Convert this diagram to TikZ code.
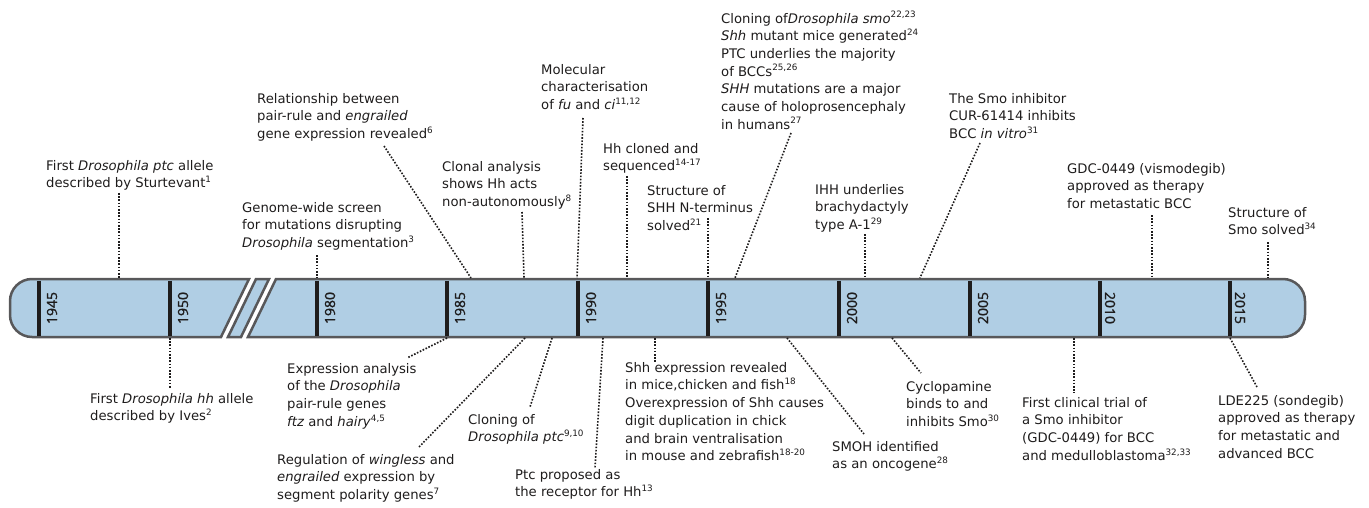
\documentclass[tikz,border=0pt]{standalone}
\usepackage{fontspec}
\setmainfont{DejaVu Sans}
\newfontfamily\yearfont[FakeBold=1.3]{Open Sans}
\usepackage{tikz}

\definecolor{barfill}{RGB}{176,206,228}
\definecolor{barline}{RGB}{88,88,90}
\definecolor{ink}{RGB}{30,28,28}
\newcommand{\notefont}{\fontsize{13.2}{17.7}\selectfont}
\newcommand{\refnum}[1]{\raisebox{0.4em}{\fontsize{8.8}{10}\selectfont #1}}

\begin{document}
\begin{tikzpicture}[x=1pt,y=-1pt]
\tikzstyle{note}=[font=\notefont,text=ink,align=left,anchor=north west,inner sep=0pt];
\tikzstyle{link}=[draw=ink,line width=1.6pt,dash pattern=on 1.6pt off 1.6pt];
\tikzstyle{barpart}=[fill=barfill,draw=barline,line width=2.5pt,line join=miter];
\tikzstyle{tick}=[draw=ink,line width=4.5pt];
\tikzstyle{year}=[font=\yearfont\fontsize{14}{15}\selectfont,text=ink,inner sep=0pt];
\useasboundingbox (0,0) rectangle (1369,508);
% draw the time bar
%   pieces
    \draw[barpart] (249,279) -- (32,279) .. controls (19.9,279) and (10,288.9) .. (10,301)
        -- (10,315) .. controls (10,327.1) and (19.9,337) .. (32,337) -- (221,337) -- cycle;
    \draw[barpart] (256,279) -- (269,279) -- (241,337) -- (228,337) -- cycle;
    \draw[barpart] (276,279) -- (1283,279) .. controls (1295.1,279) and (1305,288.9) .. (1305,301)
        -- (1305,315) .. controls (1305,327.1) and (1295.1,337) .. (1283,337) -- (248,337) -- cycle;
%   ticks and years
    \foreach \yr/\xx/\rot/\dx in {1945/39/90/13,1950/170/90/13,1980/317/90/13,1985/447/90/13,
        1990/578/90/13,1995/708/90/13,2000/839/90/13,2005/970/90/13,2010/1100/-90/10,2015/1230/-90/10}{
      \draw[tick] (\xx,280.5) -- (\xx,335.5);
      \node[year,rotate=\rot] (y\yr) at (\xx+\dx,308) {\yr};
    }
% events above the bar
%   nodes
    \node[note] (ptc) at (46,160) {First \textit{Drosophila ptc} allele\\described by Sturtevant\refnum{1}};
    \node[note] (relation) at (257,93) {Relationship between\\pair-rule and \textit{engrailed}\\gene expression revealed\refnum{6}};
    \node[note] (screen) at (242,202) {Genome-wide screen\\for mutations disrupting\\\textit{Drosophila} segmentation\refnum{3}};
    \node[note] (clonal) at (442,161) {Clonal analysis\\shows Hh acts\\non-autonomously\refnum{8}};
    \node[note] (fuci) at (541,64) {Molecular\\characterisation\\of \textit{fu} and \textit{ci}\refnum{11,12}};
    \node[note] (hhclone) at (603,143) {Hh cloned and\\sequenced\refnum{14-17}};
    \node[note] (shhnt) at (647,185) {Structure of\\SHH N-terminus\\solved\refnum{21}};
    \node[note] (smo) at (721,11) {Cloning of\textit{Drosophila smo}\refnum{22,23}\\\textit{Shh} mutant mice generated\refnum{24}\\PTC underlies the majority\\of BCCs\refnum{25,26}\\\textit{SHH} mutations are a major\\cause of holoprosencephaly\\in humans\refnum{27}};
    \node[note] (ihh) at (815,184) {IHH underlies\\brachydactyly\\type A-1\refnum{29}};
    \node[note] (cur) at (949,93) {The Smo inhibitor\\CUR-61414 inhibits\\BCC \textit{in vitro}\refnum{31}};
    \node[note] (gdc) at (1067,163) {GDC-0449 (vismodegib)\\approved as therapy\\for metastatic BCC};
    \node[note] (smostr) at (1228,207) {Structure of\\Smo solved\refnum{34}};
%   edges
    \coordinate (ptc1) at (119,193);   \coordinate (ptc2) at (119,278);
    \coordinate (rel1) at (384,146);   \coordinate (rel2) at (471,278);
    \coordinate (scr1) at (317,255);   \coordinate (scr2) at (317,278);
    \coordinate (clo1) at (522,212);   \coordinate (clo2) at (524,278);
    \coordinate (fuc1) at (583,118);   \coordinate (fuc2) at (577,278);
    \coordinate (hhc1) at (627,176);   \coordinate (hhc2) at (627,278);
    \coordinate (shh1) at (708,218);   \coordinate (shh2) at (708,278);
    \coordinate (smo1) at (791,133);   \coordinate (smo2) at (735,278);
    \coordinate (ihh1) at (865,234);   \coordinate (ihh2) at (865,278);
    \coordinate (cur1) at (980,143);   \coordinate (cur2) at (920,278);
    \coordinate (gdc1) at (1152,215);  \coordinate (gdc2) at (1152,278);
    \coordinate (sms1) at (1268,242);  \coordinate (sms2) at (1268,278);
    \foreach \a in {ptc,rel,scr,clo,fuc,hhc,shh,smo,ihh,cur,gdc,sms}
      \draw[link] (\a1) -- (\a2);
% events below the bar
%   nodes
    \node[note] (hh) at (90,393) {First \textit{Drosophila hh} allele\\described by Ives\refnum{2}};
    \node[note] (pairrule) at (287,363) {Expression analysis\\of the \textit{Drosophila}\\pair-rule genes\\\textit{ftz} and \textit{hairy}\refnum{4,5}};
    \node[note] (wg) at (277,454) {Regulation of \textit{wingless} and\\\textit{engrailed} expression by\\segment polarity genes\refnum{7}};
    \node[note] (ptcclone) at (468,414) {Cloning of\\\textit{Drosophila ptc}\refnum{9,10}};
    \node[note] (receptor) at (515,469) {Ptc proposed as\\the receptor for Hh\refnum{13}};
    \node[note] (shhexp) at (625,362) {Shh expression revealed\\in mice,chicken and fish\refnum{18}\\Overexpression of Shh causes\\digit duplication in chick\\and brain ventralisation\\in mouse and zebrafish\refnum{18-20}};
    \node[note] (smoh) at (832,441) {SMOH identified\\as an oncogene\refnum{28}};
    \node[note] (cyclo) at (906,381) {Cyclopamine\\binds to and\\inhibits Smo\refnum{30}};
    \node[note] (trial) at (1022,397) {First clinical trial of\\a Smo inhibitor\\(GDC-0449) for BCC\\and medulloblastoma\refnum{32,33}};
    \node[note] (lde) at (1218,395) {LDE225 (sondegib)\\approved as therapy\\for metastatic and\\advanced BCC};
%   edges
    \coordinate (hh1) at (170,338);    \coordinate (hh2) at (170,388);
    \coordinate (pai1) at (447,338);   \coordinate (pai2) at (407,358);
    \coordinate (wg1) at (525,338);    \coordinate (wg2) at (418,448);
    \coordinate (ptl1) at (552,338);   \coordinate (ptl2) at (530,407);
    \coordinate (rec1) at (603,338);   \coordinate (rec2) at (595,468);
    \coordinate (exp1) at (655,338);   \coordinate (exp2) at (655,363);
    \coordinate (onc1) at (787,338);   \coordinate (onc2) at (864,434);
    \coordinate (cyc1) at (892,338);   \coordinate (cyc2) at (921,373);
    \coordinate (tri1) at (1074,338);  \coordinate (tri2) at (1074,393);
    \coordinate (lde1) at (1230,338);  \coordinate (lde2) at (1257,387);
    \foreach \a in {hh,pai,wg,ptl,rec,exp,onc,cyc,tri,lde}
      \draw[link] (\a1) -- (\a2);
\end{tikzpicture}
\end{document}
